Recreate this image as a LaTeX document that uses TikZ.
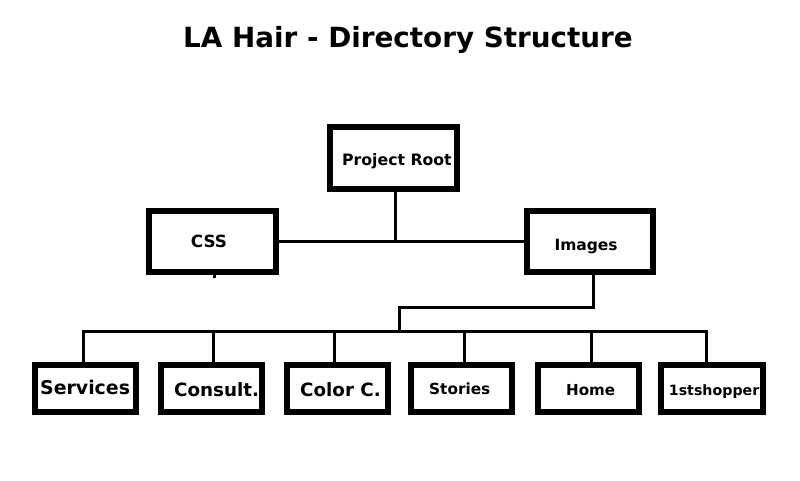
\documentclass[tikz,border=0pt]{standalone}
\usepackage{fontspec}
\setmainfont{DejaVu Sans}
\begin{document}
\begin{tikzpicture}[x=1pt,y=-1pt,
  box/.style={draw=black,line width=6pt,rectangle,inner sep=0pt,fill=white},
  lbl/.style={anchor=base west,inner sep=0pt,font=\bfseries},
  conn/.style={draw=black,line width=3pt}]
\useasboundingbox[fill=white] (0,0) rectangle (800,480);
% title
\node[lbl,font=\bfseries\fontsize{27.8}{30}\selectfont] (title) at (183,47.3) {LA Hair - Directory Structure};
% boxes (centres, sizes of the drawn path)
\node[box,minimum width=127pt,minimum height=62pt] (root) at (393.5,158) {};
\node[box,minimum width=127pt,minimum height=61pt] (css) at (212.5,241.5) {};
\node[box,minimum width=126pt,minimum height=61pt] (images) at (590,241.5) {};
\node[box,minimum width=101pt,minimum height=47pt] (services) at (85.5,388.5) {};
\node[box,minimum width=101pt,minimum height=47pt] (consult) at (211.5,388.5) {};
\node[box,minimum width=101pt,minimum height=47pt] (color) at (337.5,388.5) {};
\node[box,minimum width=101pt,minimum height=47pt] (stories) at (461.5,388.5) {};
\node[box,minimum width=101pt,minimum height=47pt] (home) at (588.5,388.5) {};
\node[box,minimum width=102pt,minimum height=47pt] (shopper) at (712,388.5) {};
% labels
\node[lbl,font=\bfseries\fontsize{15.7}{18}\selectfont] (troot) at (342,165.7) {Project Root};
\node[lbl,font=\bfseries\fontsize{16.8}{18}\selectfont] (tcss) at (190.7,247.7) {CSS};
\node[lbl,font=\bfseries\fontsize{15.5}{18}\selectfont] (timages) at (554.3,250) {Images};
\node[lbl,font=\bfseries\fontsize{18.9}{20}\selectfont] (tservices) at (40,394) {Services};
\node[lbl,font=\bfseries\fontsize{18.3}{20}\selectfont] (tconsult) at (174,396) {Consult.};
\node[lbl,font=\bfseries\fontsize{18.3}{20}\selectfont] (tcolor) at (300,396) {Color C.};
\node[lbl,font=\bfseries\fontsize{15.3}{18}\selectfont] (tstories) at (429,394) {Stories};
\node[lbl,font=\bfseries\fontsize{15.1}{18}\selectfont] (thome) at (566,395) {Home};
\node[lbl,font=\bfseries\fontsize{14.2}{16}\selectfont] (tshopper) at (668.7,395) {1stshopper};
% connectors
\coordinate (rj) at (395,241.5);
\draw[conn] (root.south -| rj) -- (rj);
\draw[conn] (css.east) -- (images.west);
\coordinate (csstick) at (214,278);
\draw[conn] (css.south -| csstick) -- (csstick);
\coordinate (j1) at (593,307);
\coordinate (j2) at (399,307);
\coordinate (j3) at (399,331);
\draw[conn] (images.south -| j1) -- (j1) -- (j2) -- (j3);
\coordinate (t1) at (83.3,331);
\coordinate (t2) at (213.3,331);
\coordinate (t3) at (334.3,331);
\coordinate (t4) at (464.3,331);
\coordinate (t5) at (591.7,331);
\coordinate (t6) at (706,331);
\draw[conn] ([xshift=-1.5pt]t1) -- ([xshift=1.5pt]t6);
\draw[conn] (t1) -- (t1 |- services.north);
\draw[conn] (t2) -- (t2 |- consult.north);
\draw[conn] (t3) -- (t3 |- color.north);
\draw[conn] (t4) -- (t4 |- stories.north);
\draw[conn] (t5) -- (t5 |- home.north);
\draw[conn] (t6) -- (t6 |- shopper.north);
\end{tikzpicture}
\end{document}
